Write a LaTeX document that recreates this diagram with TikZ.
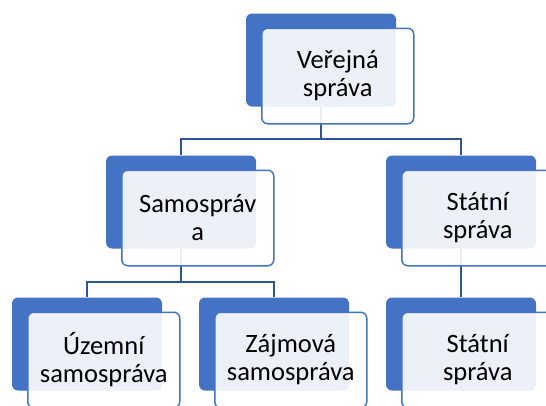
\documentclass[tikz,border=0pt]{standalone}
\usepackage{fontspec}
\setmainfont{Carlito}
\usetikzlibrary{backgrounds}
\definecolor{boxblue}{HTML}{4472C4}
\definecolor{lineblue}{HTML}{2F5597}
\tikzset{
  backbox/.style={draw=none, fill=boxblue, rounded corners=6pt,
    minimum width=150pt, minimum height=93pt, inner sep=0pt},
  frontbox/.style={draw=boxblue, line width=1.5pt, fill=white, fill opacity=0.9,
    text opacity=1, rounded corners=6pt, minimum width=152pt, minimum height=95.5pt,
    inner sep=2pt, align=center, font=\fontsize{26.5}{28}\selectfont},
  conn/.style={draw=lineblue, line width=1.6pt}
}
% name, position, text
\newcommand{\orgbox}[3]{%
  \node[backbox] (#1-b) at #2 {};
  \node[frontbox] (#1) at ([xshift=16.75pt,yshift=-16pt]#1-b.center) {#3};
}
\begin{document}
\begin{tikzpicture}[x=1pt, y=-1pt]
  \useasboundingbox (0,0) rectangle (546,405);
  \orgbox{vs}{(321,60)}{Veřejná\\správa}
  \orgbox{sam}{(181,202)}{Samospráv\\a}
  \orgbox{st}{(461,202)}{Státní\\správa}
  \orgbox{uz}{(87,344)}{Územní\\samospráva}
  \orgbox{zaj}{(274,344)}{Zájmová\\samospráva}
  \orgbox{st2}{(461,344)}{Státní\\správa}
  \begin{pgfonlayer}{background}
    \draw[conn] (vs-b.south) -- ++(0,32.5) coordinate (j1);
    \draw[conn] (j1) -| (sam-b.north);
    \draw[conn] (j1) -| (st-b.north);
    \draw[conn] (sam-b.south) -- ++(0,33.5) coordinate (j2);
    \draw[conn] (j2) -| (uz-b.north);
    \draw[conn] (j2) -| (zaj-b.north);
    \draw[conn] (st-b.south) -- (st2-b.north);
  \end{pgfonlayer}
\end{tikzpicture}
\end{document}
